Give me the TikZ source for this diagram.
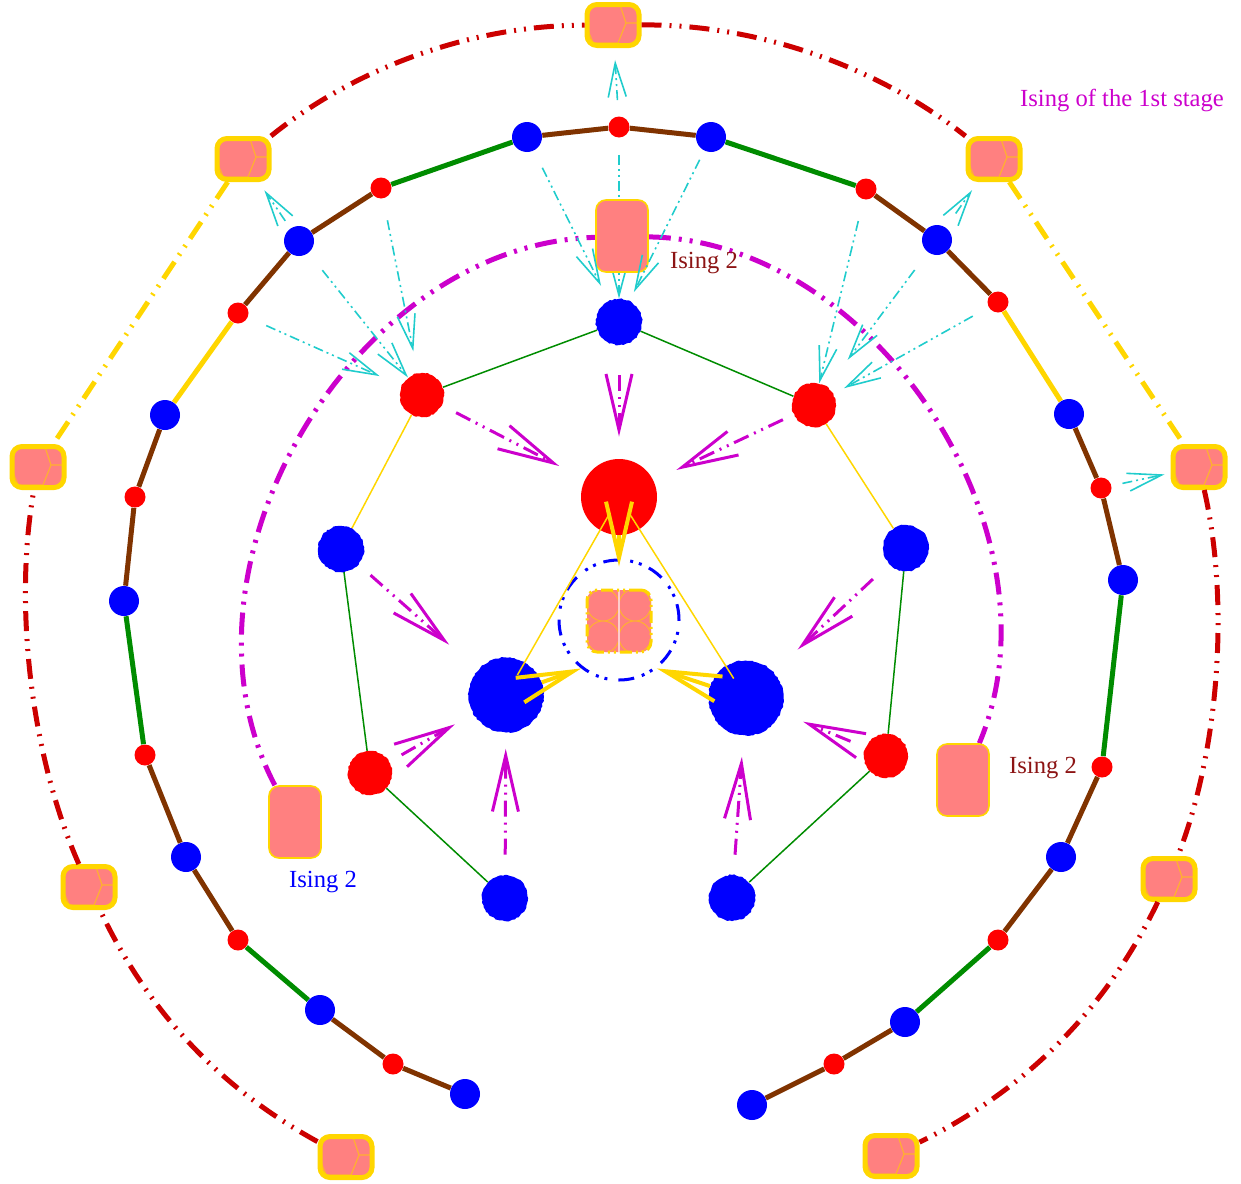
\documentclass[tikz,border=0pt]{standalone}
\usepackage{fontspec}
\setmainfont{Liberation Serif}
\usetikzlibrary{arrows.meta,decorations.pathmorphing}
\pgfdeclarelayer{behind}
\pgfsetlayers{behind,main}

\definecolor{ringbrown}{RGB}{128,51,0}
\definecolor{ringgreen}{RGB}{0,140,0}
\definecolor{gold}{RGB}{255,214,0}
\definecolor{stagered}{RGB}{204,0,0}
\definecolor{stagemag}{RGB}{204,0,204}
\definecolor{feedcyan}{RGB}{32,204,204}
\definecolor{boxpink}{RGB}{255,128,128}
\definecolor{labelred}{RGB}{140,20,20}
\definecolor{cellline}{RGB}{255,176,48}

\tikzset{
  sb/.style={circle, fill=blue, inner sep=0pt, minimum size=15pt},
  sr/.style={circle, fill=red, inner sep=0pt, minimum size=10.5pt},
  ragged/.style={decorate, decoration={random steps, segment length=1.2pt, amplitude=0.35pt}},
  mb/.style={circle, fill=blue, inner sep=0pt, minimum size=23pt, ragged},
  mr/.style={circle, fill=red, inner sep=0pt, minimum size=22pt, ragged},
  bigb/.style={circle, fill=blue, inner sep=0pt, minimum size=37.5pt, ragged},
  stagebox/.style={rounded corners=5pt, fill=boxpink, draw=gold, line width=2.5pt,
    minimum width=26pt, minimum height=20.5pt, inner sep=0pt,
    path picture={
      \draw[cellline, line width=0.6pt, sharp corners] (path picture bounding box.center) ++(7,-20) -- ++(6,18) -- ++(12,0);
      \draw[cellline, line width=0.6pt, sharp corners] (path picture bounding box.center) ++(13,-2) -- ++(-8,20) -- ++(-28,0);
      \draw[cellline, line width=0.6pt, sharp corners] (path picture bounding box.center) ++(-26,3) -- ++(7,17);
    }},
  isingbox/.style={rounded corners=5pt, fill=boxpink, draw=gold, line width=0.8pt,
    minimum width=26pt, minimum height=36pt, inner sep=0pt},
  hub/.style={rounded corners=5pt, fill=boxpink, draw=gold, line width=1.5pt,
    dash pattern=on 6pt off 2pt on 1pt off 2pt on 1pt off 2pt,
    minimum width=32pt, minimum height=31pt, inner sep=0pt,
    path picture={
      \draw[cellline, line width=0.5pt, solid, sharp corners] (path picture bounding box.center)
        ++(-16,-16) circle (16) ++(32,0) circle (16) ++(0,32) circle (16) ++(-32,0) circle (16);
      \draw[white!60!boxpink, line width=0.8pt, solid] (path picture bounding box.north) -- (path picture bounding box.south);
    }},
  ring/.style={circle, draw=blue, line width=1.5pt, minimum size=60pt, inner sep=0pt,
    dash pattern=on 8pt off 4pt on 1.5pt off 3pt on 1.5pt off 5.5pt},
  link/.style={line width=2.5pt},
  spoke/.style={line width=0.75pt},
  stage/.style={line width=2.5pt, dash pattern=on 10pt off 4pt on 1pt off 4pt on 1pt off 4pt},
  ising/.style={draw=stagemag, line width=2.5pt, dash pattern=on 11pt off 4pt on 1.5pt off 4pt on 1.5pt off 4pt},
  flow/.style={draw=stagemag, line width=1.5pt, dash pattern=on 8pt off 3pt on 1pt off 3pt on 1pt off 3pt,
    -{Straight Barb[length=28pt,width=13pt]}, shorten <=9pt, shorten >=12pt},
  feed/.style={draw=feedcyan, line width=0.8pt, dash pattern=on 5pt off 2pt on 1pt off 2pt on 1pt off 2pt,
    -{Straight Barb[length=17pt,width=9pt]}},
  pour/.style={draw=gold, line width=2pt, -{Straight Barb[length=28pt,width=13pt]}},
  tag/.style={font=\fontsize{12.3}{14}\selectfont, inner sep=0pt}
}

\begin{document}
\begin{tikzpicture}[x=0.5pt, y=-0.5pt]
\useasboundingbox (0,0) rectangle (1241,1183);

% outer stage
\node[stagebox] (o1) at (613,25) {};
\node[stagebox] (o2) at (243,159) {};
\node[stagebox] (o3) at (38,467) {};
\node[stagebox] (o4) at (89,887) {};
\node[stagebox] (o5) at (346,1157) {};
\node[stagebox] (o6) at (994,159) {};
\node[stagebox] (o7) at (1199,467) {};
\node[stagebox] (o8) at (1169,879) {};
\node[stagebox] (o9) at (891,1156) {};

% Ising 2 boxes
\node[isingbox] (ia) at (622,236) {};
\node[isingbox] (ib) at (295,822) {};
\node[isingbox] (ic) at (963,780) {};

% middle chain
\foreach \px/\py/\c [count=\i] in {465/1094/b, 393/1064/r, 320/1010/b, 238/940/r, 186/857/b,
    145/755/r, 124/601/b, 135/497/r, 165/415/b, 238/313/r, 299/241/b, 381/188/r, 527/137/b,
    619/127/r, 711/137/b, 866/189/r, 937/240/b, 998/302/r, 1069/414/b, 1101/488/r, 1123/580/b,
    1102/767/r, 1061/857/b, 998/940/r, 905/1022/b, 834/1064/r, 752/1105/b}
  \node[s\c] (m\i) at (\px,\py) {};

% inner ring
\node[mb] (n1) at (619,322) {};
\node[mr] (n2) at (422,395) {};
\node[mr] (n3) at (814,405) {};
\node[mb] (n4) at (341,549) {};
\node[mb] (n5) at (906,548) {};
\node[mr] (n6) at (370,773) {};
\node[mr] (n7) at (886,756) {};
\node[mb] (n8) at (505,898) {};
\node[mb] (n9) at (732,898) {};

% centre
\node[circle, fill=red, inner sep=0pt, minimum size=38pt] (core) at (619,497) {};
\node[bigb] (bl) at (506,695) {};
\node[bigb] (br) at (746,698) {};
\node[ring] (ring) at (619,620) {};
\node[hub] (hub) at (619,621) {};

% labels
\node[tag, text=stagemag] (title) at (1122,100) {Ising of the 1st stage};
\node[tag, text=labelred] (la) at (704,263) {Ising 2};
\node[tag, text=labelred] (lc) at (1043,768) {Ising 2};
\node[tag, text=blue] (lb) at (323,882) {Ising 2};

% outer stage arcs
\draw[stage, draw=stagered] (o2) to[bend left=19.5, looseness=0.85] (o1);
\draw[stage, draw=stagered] (o1) to[bend left=19.5, looseness=0.85] (o6);
\draw[stage, draw=stagered] (o5) to[bend left=18, looseness=0.9] (o4);
\draw[stage, draw=stagered] (o4) to[bend left=17, looseness=0.8] (o3);
\draw[stage, draw=stagered] (o7) to[bend left=17, looseness=0.8] (o8);
\draw[stage, draw=stagered] (o8) to[bend left=19, looseness=0.9] (o9);
\draw[stage, draw=gold] (o2) -- (o3);
\draw[stage, draw=gold] (o6) -- (o7);

% chain links
\foreach \a/\b/\c in {1/2/ringbrown, 2/3/ringbrown, 3/4/ringgreen, 4/5/ringbrown, 5/6/ringbrown,
    6/7/ringgreen, 7/8/ringbrown, 8/9/ringbrown, 9/10/gold, 10/11/ringbrown, 11/12/ringbrown,
    12/13/ringgreen, 13/14/ringbrown, 14/15/ringbrown, 15/16/ringgreen, 16/17/ringbrown,
    17/18/ringbrown, 18/19/gold, 19/20/ringbrown, 20/21/ringbrown, 21/22/ringgreen,
    22/23/ringbrown, 23/24/ringbrown, 24/25/ringgreen, 25/26/ringbrown, 26/27/ringbrown}
  \draw[link, draw=\c] (m\a) -- (m\b);

% inner ring spokes
\draw[spoke, draw=ringgreen] (n1) -- (n2);
\draw[spoke, draw=ringgreen] (n1) -- (n3);
\draw[spoke, draw=gold] (n2) -- (n4);
\draw[spoke, draw=gold] (n3) -- (n5);
\draw[spoke, draw=ringgreen] (n4) -- (n6);
\draw[spoke, draw=ringgreen] (n5) -- (n7);
\draw[spoke, draw=ringgreen] (n6) -- (n8);
\draw[spoke, draw=ringgreen] (n7) -- (n9);
\draw[spoke, draw=gold, shorten <=11pt, shorten >=11.5pt] (core.center) -- (bl.center);
\draw[spoke, draw=gold, shorten <=11pt, shorten >=11.5pt] (core.center) -- (br.center);

% Ising arc
\begin{pgfonlayer}{behind}
  \draw[ising] (ib) to[bend left=58, looseness=0.98] (ia);
  \draw[ising] (ia) to[bend left=56, looseness=0.96] (ic);
  \draw[feed, shorten <=8.5pt] (m14) -- (n1);
\end{pgfonlayer}

% cyan feeds
\draw[feed, shorten <=8pt, shorten >=6pt] (m14) -- (o1);
\draw[feed, shorten <=9.5pt, shorten >=8.5pt] (m13) -- (n1);
\draw[feed, shorten <=5pt, shorten >=5pt] (m15) -- (n1);
\draw[feed, shorten <=4.5pt, shorten >=5pt] (m11) -- (o2);
\draw[feed, shorten <=11pt] (m11) -- (n2);
\draw[feed, shorten <=10pt, shorten >=12pt] (m10) -- (n2);
\draw[feed, shorten <=11pt, shorten >=11pt] (m12) -- (n2);
\draw[feed, shorten <=8.5pt, shorten >=5pt] (m17) -- (o6);
\draw[feed, shorten <=11pt] (m16) -- (n3);
\draw[feed, shorten <=11pt, shorten >=17pt] (m17) -- (n3);
\draw[feed, shorten <=9pt, shorten >=6pt] (m18) -- (n3);
\draw[feed, shorten <=5.5pt, shorten >=3pt] (m20) -- (o7);

% magenta flows
\draw[flow, shorten <=15pt, shorten >=11pt] (n1) -- (core);
\draw[flow, shorten <=8pt, shorten >=14.5pt] (n2) -- (core);
\draw[flow, shorten <=6pt, shorten >=12.5pt] (n3) -- (core);
\draw[flow, shorten <=8pt, shorten >=19pt] (n4) -- (bl);
\draw[flow, shorten <=7pt, shorten >=10.5pt] (n6) -- (bl);
\draw[flow, shorten <=10pt, shorten >=8pt] (n8) -- (bl);
\draw[flow, shorten <=11pt, shorten >=16.5pt] (n5) -- (br);
\draw[flow, shorten <=8pt, shorten >=12pt] (n7) -- (br);
\draw[flow, shorten <=10pt, shorten >=10.5pt] (n9) -- (br);

% yellow pours
\draw[pour, shorten >=-4pt] (core) -- (ring.north);
\draw[pour] (bl) -- (ring.232);
\draw[pour] (br) -- (ring.308);
\end{tikzpicture}
\end{document}
